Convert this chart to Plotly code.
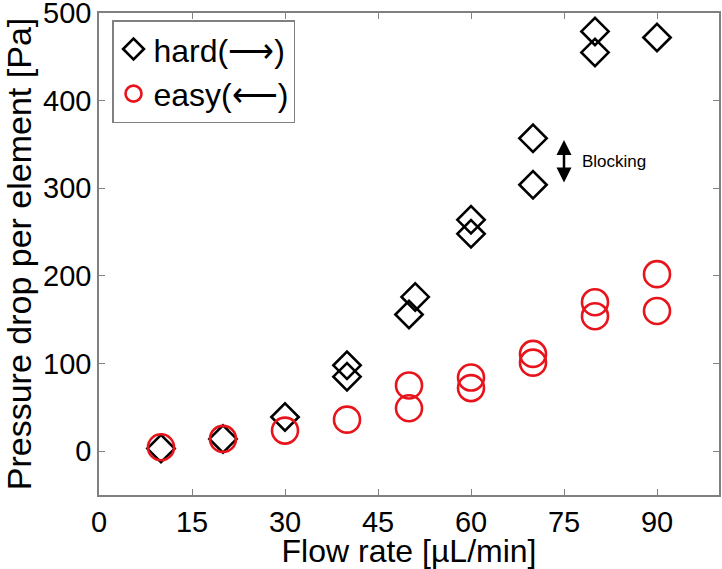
import plotly.graph_objects as go

hard_x = [10, 20, 30, 40, 40, 50, 51, 60, 60, 70, 70, 80, 80, 90]
hard_y = [3, 14, 39, 98, 85, 156, 176, 264, 248, 357, 304, 479, 455, 472]
easy_x = [10, 20, 30, 40, 50, 50, 60, 60, 70, 70, 80, 80, 90, 90]
easy_y = [4.5, 14, 23.5, 36, 75, 49, 84, 72, 111, 101, 170, 154, 202, 160]
x_ticks = [0, 15, 30, 45, 60, 75, 90]
y_ticks = [0, 100, 200, 300, 400, 500]

FONT = "Liberation Sans, Arial, sans-serif"

fig = go.Figure()
fig.add_trace(go.Scatter(
    x=hard_x, y=hard_y, mode="markers", name="hard(⟶)",
    marker=dict(symbol="diamond-open", size=21, color="black", line=dict(width=2.6, color="black")),
))
fig.add_trace(go.Scatter(
    x=easy_x, y=easy_y, mode="markers", name="easy(⟵)",
    marker=dict(symbol="circle-open", size=26, color="#e8141b", line=dict(width=2.6, color="#e8141b")),
))

fig.add_annotation(x=75, y=355, ax=75, ay=305, xref="x", yref="y", axref="x", ayref="y",
                   text="", showarrow=True, arrowhead=2, startarrowhead=2, arrowside="end+start",
                   arrowwidth=2.5, arrowsize=1.2, startarrowsize=1.2, arrowcolor="black")
fig.add_annotation(x=77.5, y=330, xref="x", yref="y", text="Blocking", showarrow=False,
                   xanchor="left", yanchor="middle", font=dict(family=FONT, size=17, color="black"))

axis_common = dict(showgrid=False, zeroline=False, showline=True, linecolor="#808080", linewidth=1.5,
                   mirror="ticks", ticks="inside", ticklen=6, tickcolor="#808080", tickwidth=1,
                   automargin=False, ticklabeloverflow="allow",
                   tickfont=dict(family=FONT, size=29, color="black"))

fig.update_xaxes(range=[0, 100], tickvals=x_ticks, title=dict(text="Flow rate [µL/min]",
                 font=dict(family=FONT, size=32, color="black"), standoff=0), **axis_common)
fig.update_yaxes(range=[-50, 500], tickvals=y_ticks, title=dict(text="Pressure drop per element [Pa]",
                 font=dict(family=FONT, size=34, color="black"), standoff=2), **axis_common)

fig.update_layout(
    template="none",
    width=722, height=569,
    margin=dict(l=99, r=3, t=13, b=74),
    plot_bgcolor="white", paper_bgcolor="white",
    showlegend=True,
    legend=dict(x=0.021, y=0.985, xanchor="left", yanchor="top", bordercolor="#808080", borderwidth=1.5,
                bgcolor="white", font=dict(family=FONT, size=32, color="black"),
                itemwidth=30, tracegroupgap=0),
)

fig.write_html("out.html", config={"displayModeBar": False},
               post_script="document.body.style.margin='0px';document.body.style.overflow='hidden';")
